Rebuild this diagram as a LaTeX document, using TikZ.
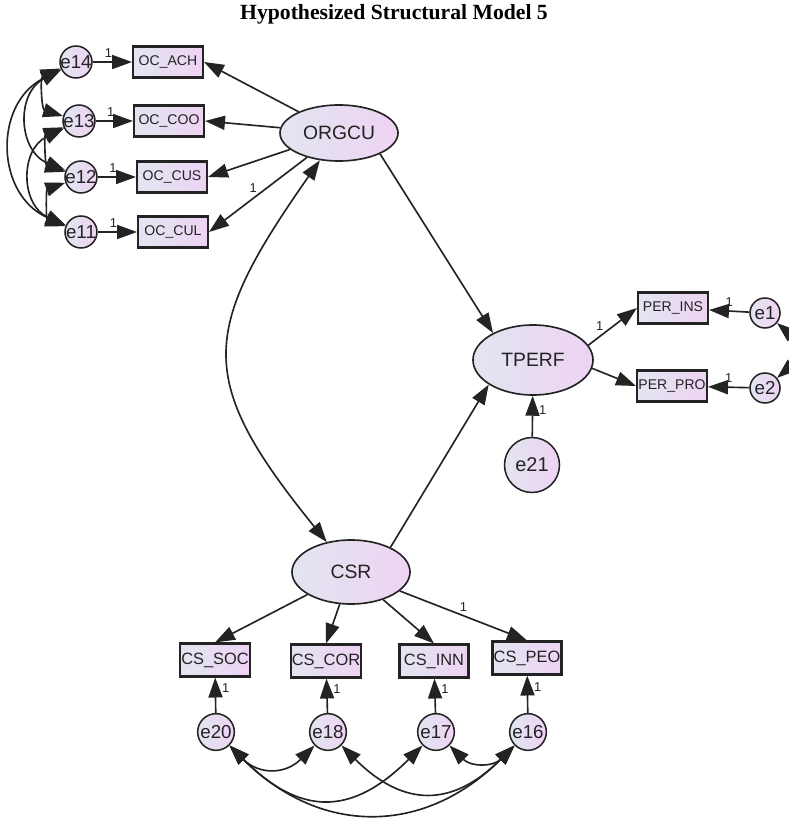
\documentclass[tikz,border=0pt]{standalone}
\usepackage{fontspec}
\setmainfont{Liberation Serif}
\setsansfont{Liberation Sans}
\usetikzlibrary{shapes.geometric,arrows.meta}

\definecolor{fillL}{RGB}{226,229,241}
\definecolor{fillR}{RGB}{238,211,243}
\definecolor{ink}{RGB}{35,35,35}

\tikzset{
  latent/.style={ellipse, draw=ink, line width=1.4pt, left color=fillL, right color=fillR, inner sep=0pt, text=ink, font=\sffamily\fontsize{16.5}{16.5}\selectfont},
  obs/.style={rectangle, draw=ink, line width=1.8pt, left color=fillL, right color=fillR, minimum width=2.1cm, minimum height=0.93cm, inner sep=1pt, text=ink, font=\sffamily\fontsize{12}{12}\selectfont},
  err/.style={circle, draw=ink, line width=1.3pt, left color=fillL, right color=fillR, inner sep=0pt, minimum size=0.96cm},
  elab/.style={text=ink, font=\sffamily\fontsize{16}{16}\selectfont},
  reg/.style={-{Triangle[length=17pt,width=12pt]}, line width=1.4pt, draw=ink},
  cov/.style={{Triangle[length=17pt,width=12pt]}-{Triangle[length=17pt,width=12pt]}, line width=1.4pt, draw=ink},
  one/.style={text=ink, font=\sffamily\fontsize{11}{11}\selectfont, inner sep=1pt}
}

\begin{document}
\begin{tikzpicture}[x=0.03cm, y=0.03cm]
\useasboundingbox (0,0) rectangle (788,-825);

\node[font=\bfseries\fontsize{18.5}{18.5}\selectfont] (title) at (394,-14) {Hypothesized Structural Model 5};

%latent factors
\node[latent, minimum width=3.54cm, minimum height=1.68cm] (ORGCU) at (339,-133) {ORGCU};
\node[latent, minimum width=3.6cm, minimum height=2.1cm] (TPERF) at (533,-360) {TPERF};
\node[latent, minimum width=3.54cm, minimum height=1.92cm] (CSR) at (351,-572) {CSR};

%culture indicators and their errors
\node[obs] (ach) at (168,-62) {OC\_ACH};
\node[obs] (coo) at (169,-121) {OC\_COO};
\node[obs] (cus) at (172,-177) {OC\_CUS};
\node[obs] (cul) at (173,-232) {OC\_CUL};
\node[err, label={[elab]center:e14}] (e14) at (76,-62) {};
\node[err, label={[elab]center:e13}] (e13) at (79,-121) {};
\node[err, label={[elab]center:e12}] (e12) at (81,-177) {};
\node[err, label={[elab]center:e11}] (e11) at (81,-232) {};

%performance indicators
\node[obs] (ins) at (673,-308) {PER\_INS};
\node[obs] (pro) at (672,-386) {PER\_PRO};
\node[err, minimum size=0.9cm, label={[elab]center:e1}] (e1) at (765,-313) {};
\node[err, minimum size=0.9cm, label={[elab]center:e2}] (e2) at (765,-388) {};
\node[err, minimum size=1.65cm, label={[elab, font=\sffamily\fontsize{17}{17}\selectfont]center:e21}] (e21) at (532,-465) {};

%csr indicators
\node[obs, minimum width=2.07cm, minimum height=0.99cm, font=\sffamily\fontsize{14}{14}\selectfont] (soc) at (215,-660) {CS\_SOC};
\node[obs, minimum width=2.07cm, minimum height=0.99cm, font=\sffamily\fontsize{14}{14}\selectfont] (cor) at (326,-661) {CS\_COR};
\node[obs, minimum width=2.07cm, minimum height=0.99cm, font=\sffamily\fontsize{14}{14}\selectfont] (inn) at (434,-661) {CS\_INN};
\node[obs, minimum width=2.07cm, minimum height=0.99cm, font=\sffamily\fontsize{14}{14}\selectfont] (peo) at (527,-658) {CS\_PEO};
\node[err, minimum size=1.1cm, label={[elab]center:e20}] (e20) at (216,-732) {};
\node[err, minimum size=1.1cm, label={[elab]center:e18}] (e18) at (328,-732) {};
\node[err, minimum size=1.1cm, label={[elab]center:e17}] (e17) at (436,-732) {};
\node[err, minimum size=1.1cm, label={[elab]center:e16}] (e16) at (528,-732) {};

%loadings
\draw[reg] (ORGCU) -- (ach.east);
\draw[reg] (ORGCU) -- (coo.east);
\draw[reg] (ORGCU) -- (cus.east);
\draw[reg] (ORGCU) -- node[one, pos=0.55, above=3pt] {1} (cul.east);
\draw[reg] (TPERF.15) -- node[one, pos=0.35, above left] {1} (ins.west);
\draw[reg] (TPERF.-8) -- (pro.west);
\draw[reg] (CSR) -- (soc.north);
\draw[reg] (CSR) -- (cor.north);
\draw[reg] (CSR) -- (inn.north);
\draw[reg] (CSR) -- node[one, pos=0.5, above=2pt] {1} (peo.north);

%structural paths
\draw[reg] (ORGCU.-27) -- (TPERF.146);
\draw[reg] (CSR.32) -- (TPERF.209);
\draw[cov] (ORGCU.235) to[out=235, in=129, looseness=1.4] (CSR.129);

%error terms
\draw[reg] (e14) -- node[one, pos=0.4, above=2pt] {1} (ach);
\draw[reg] (e13) -- node[one, pos=0.4, above=2pt] {1} (coo);
\draw[reg] (e12) -- node[one, pos=0.4, above=2pt] {1} (cus);
\draw[reg] (e11) -- node[one, pos=0.4, above=2pt] {1} (cul);
\draw[reg] (e1) -- node[one, pos=0.5, above=2pt] {1} (ins);
\draw[reg] (e2) -- node[one, pos=0.5, above=2pt] {1} (pro);
\draw[reg] (e21) -- node[one, pos=0.65, right=4pt] {1} (TPERF);
\draw[reg] (e20) -- node[one, pos=0.7, right=4pt] {1} (soc);
\draw[reg] (e18) -- node[one, pos=0.7, right=4pt] {1} (cor);
\draw[reg] (e17) -- node[one, pos=0.7, right=4pt] {1} (inn);
\draw[reg] (e16) -- node[one, pos=0.7, right=4pt] {1} (peo);

%covariances between errors
\draw[cov] (e14) to[bend right=70, looseness=1.2] (e13);
\draw[cov] (e13) to[bend right=70, looseness=1.2] (e12);
\draw[cov] (e12) to[bend right=70, looseness=1.2] (e11);
\draw[cov] (e14) to[bend right=65, looseness=1.3] (e12);
\draw[cov] (e13) to[bend right=65, looseness=1.3] (e11);
\draw[cov] (e14) to[bend right=65, looseness=1.25] (e11);
\draw[cov] (e1) to[bend left=50, looseness=1.3] (e2);
\draw[cov] (e20) to[bend right=45, looseness=1.25] (e18);
\draw[cov] (e20) to[bend right=45, looseness=1.33] (e17);
\draw[cov] (e20) to[bend right=45, looseness=1.15] (e16);
\draw[cov] (e18) to[bend right=45, looseness=1.3] (e16);
\draw[cov] (e17) to[bend right=45, looseness=1.2] (e16);

\end{tikzpicture}
\end{document}
